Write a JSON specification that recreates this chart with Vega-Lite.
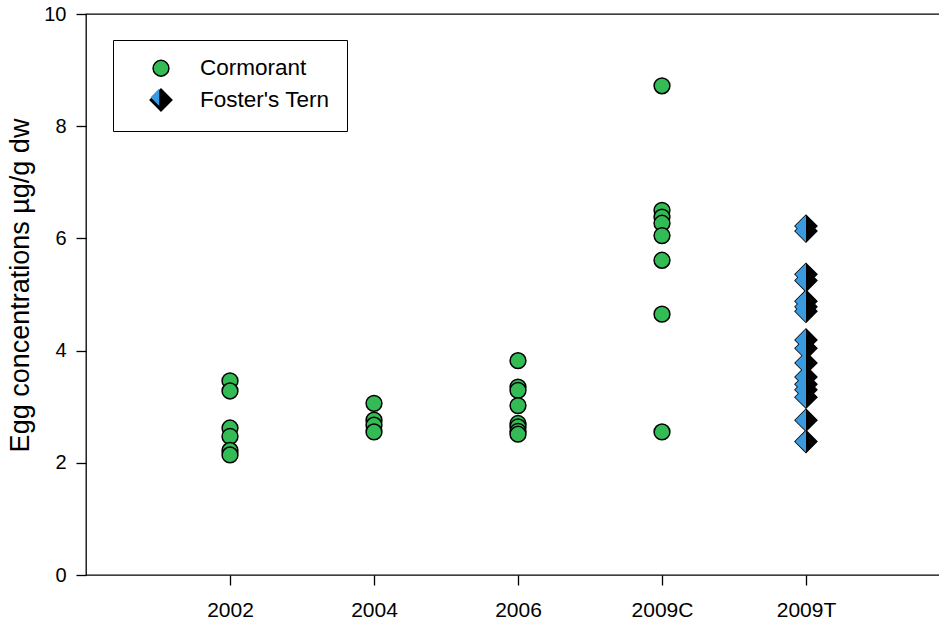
{
  "$schema": "https://vega.github.io/schema/vega-lite/v6.json",
  "autosize": "none",
  "padding": {"left": 86, "top": 14, "right": 0, "bottom": 46},
  "width": 864,
  "height": 561,
  "background": "white",
  "config": {
    "font": "Liberation Sans",
    "view": {"stroke": "black", "strokeWidth": 1.3},
    "axis": {"domain": false, "grid": false, "tickColor": "black", "labelColor": "black", "titleColor": "black", "labelFontSize": 20, "titleFontSize": 27, "titleFontWeight": "normal", "tickSize": 10, "tickWidth": 1.3}
  },
  "data": {
    "values": [
      {"year": "2002", "species": "Cormorant", "value": 3.46},
      {"year": "2002", "species": "Cormorant", "value": 3.28},
      {"year": "2002", "species": "Cormorant", "value": 2.62},
      {"year": "2002", "species": "Cormorant", "value": 2.47},
      {"year": "2002", "species": "Cormorant", "value": 2.22},
      {"year": "2002", "species": "Cormorant", "value": 2.14},
      {"year": "2004", "species": "Cormorant", "value": 3.06},
      {"year": "2004", "species": "Cormorant", "value": 2.76},
      {"year": "2004", "species": "Cormorant", "value": 2.67},
      {"year": "2004", "species": "Cormorant", "value": 2.55},
      {"year": "2006", "species": "Cormorant", "value": 3.82},
      {"year": "2006", "species": "Cormorant", "value": 3.35},
      {"year": "2006", "species": "Cormorant", "value": 3.29},
      {"year": "2006", "species": "Cormorant", "value": 3.02},
      {"year": "2006", "species": "Cormorant", "value": 2.70},
      {"year": "2006", "species": "Cormorant", "value": 2.64},
      {"year": "2006", "species": "Cormorant", "value": 2.56},
      {"year": "2006", "species": "Cormorant", "value": 2.51},
      {"year": "2009C", "species": "Cormorant", "value": 8.72},
      {"year": "2009C", "species": "Cormorant", "value": 6.50},
      {"year": "2009C", "species": "Cormorant", "value": 6.38},
      {"year": "2009C", "species": "Cormorant", "value": 6.27},
      {"year": "2009C", "species": "Cormorant", "value": 6.05},
      {"year": "2009C", "species": "Cormorant", "value": 5.61},
      {"year": "2009C", "species": "Cormorant", "value": 4.65},
      {"year": "2009C", "species": "Cormorant", "value": 2.55},
      {"year": "2009T", "species": "Foster's Tern", "value": 6.22},
      {"year": "2009T", "species": "Foster's Tern", "value": 6.13},
      {"year": "2009T", "species": "Foster's Tern", "value": 5.36},
      {"year": "2009T", "species": "Foster's Tern", "value": 5.25},
      {"year": "2009T", "species": "Foster's Tern", "value": 4.88},
      {"year": "2009T", "species": "Foster's Tern", "value": 4.78},
      {"year": "2009T", "species": "Foster's Tern", "value": 4.70},
      {"year": "2009T", "species": "Foster's Tern", "value": 4.19},
      {"year": "2009T", "species": "Foster's Tern", "value": 4.04},
      {"year": "2009T", "species": "Foster's Tern", "value": 3.78},
      {"year": "2009T", "species": "Foster's Tern", "value": 3.53},
      {"year": "2009T", "species": "Foster's Tern", "value": 3.40},
      {"year": "2009T", "species": "Foster's Tern", "value": 3.30},
      {"year": "2009T", "species": "Foster's Tern", "value": 3.17},
      {"year": "2009T", "species": "Foster's Tern", "value": 2.76},
      {"year": "2009T", "species": "Foster's Tern", "value": 2.38}
    ]
  },
  "encoding": {
    "x": {"field": "year", "type": "ordinal", "scale": {"type": "point", "padding": 1}, "axis": {"title": null, "labelAngle": 0, "labelPadding": 14, "labelFontSize": 21}},
    "y": {"field": "value", "type": "quantitative", "scale": {"domain": [0, 10], "nice": false}, "axis": {"values": [0, 2, 4, 6, 8, 10], "title": "Egg concentrations µg/g dw", "labelPadding": 10, "titlePadding": 9, "titleY": 271}}
  },
  "layer": [
    {
      "mark": {"type": "point", "filled": true, "stroke": "black", "strokeWidth": 1.5, "opacity": 1},
      "encoding": {
        "color": {
          "field": "species", "type": "nominal",
          "scale": {"domain": ["Cormorant", "Foster's Tern"], "range": ["#33bb55", "black"]},
          "legend": {"title": null, "orient": "none", "legendX": 27, "legendY": 26, "strokeColor": "black", "padding": 17, "symbolOffset": 19, "labelFontSize": 22.5, "labelColor": "black", "symbolSize": 300, "symbolStrokeColor": "black", "symbolStrokeWidth": 1.5, "labelOffset": 27, "rowPadding": 6}
        },
        "shape": {"field": "species", "type": "nominal", "scale": {"domain": ["Cormorant", "Foster's Tern"], "range": ["circle", "diamond"]}},
        "size": {"field": "species", "type": "nominal", "scale": {"domain": ["Cormorant", "Foster's Tern"], "range": [250, 470]}, "legend": null}
      }
    },
    {
      "transform": [{"filter": "datum.species === \"Foster's Tern\""}],
      "mark": {"type": "point", "filled": true, "shape": "M0,-1L-1,0L0,1Z", "size": 470, "strokeWidth": 0, "opacity": 1},
      "encoding": {
        "fill": {
          "field": "species", "type": "nominal",
          "scale": {"domain": ["Cormorant", "Foster's Tern"], "range": ["transparent", "#3a9ae0"]},
          "legend": {"title": null, "orient": "top-left", "offset": 26, "strokeColor": "transparent", "padding": 17, "symbolOffset": 19, "labelFontSize": 22.5, "labelExpr": "''", "symbolSize": 300, "symbolType": "M0,-1L-1,0L0,1Z", "symbolStrokeWidth": 0, "labelOffset": 27, "rowPadding": 6}
        }
      }
    }
  ]
}
